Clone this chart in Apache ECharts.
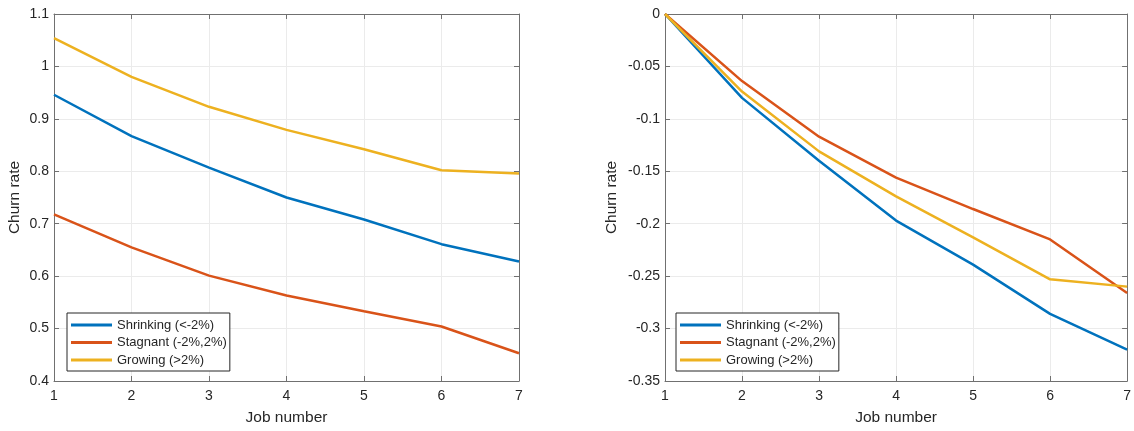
<!DOCTYPE html>
<html>
<head>
<meta charset="utf-8">
<script src="https://cdn.jsdelivr.net/npm/echarts@6/dist/echarts.min.js"></script>
<style>
  html, body { margin: 0; padding: 0; background: #fff; }
  #chart { width: 1134px; height: 431px; }
</style>
</head>
<body>
<div id="chart"></div>
<script>
// Job number along the x axis
const jobNumbers = [1, 2, 3, 4, 5, 6, 7];

// Series names
const seriesNames = ['Shrinking (<-2%)', 'Stagnant (-2%,2%)', 'Growing (>2%)'];

// Left panel: churn rate level by job number
const levelShrinking = [0.946, 0.867, 0.807, 0.750, 0.708, 0.661, 0.628];
const levelStagnant  = [0.718, 0.655, 0.601, 0.563, 0.533, 0.504, 0.453];
const levelGrowing   = [1.054, 0.980, 0.923, 0.879, 0.842, 0.802, 0.796];

// Right panel: churn rate relative to the first job
const relShrinking = [0, -0.080, -0.140, -0.197, -0.239, -0.286, -0.320];
const relStagnant  = [0, -0.064, -0.117, -0.156, -0.186, -0.215, -0.266];
const relGrowing   = [0, -0.074, -0.131, -0.174, -0.213, -0.253, -0.260];

const colors = ['#0072BD', '#D95319', '#EDB120'];
const axisGray = '#707070';
const textColor = '#262626';
const fontFamily = 'Liberation Sans, Arial, Helvetica, sans-serif';

const pairs = (ys) => jobNumbers.map((x, i) => [x, ys[i]]);
const fmt = (v) => String(parseFloat(v.toFixed(2)));

function xAxes(gridIndex) {
  const common = {
    type: 'value', gridIndex, min: 1, max: 7, interval: 1,
    axisLine: { show: true, onZero: false, lineStyle: { color: axisGray, width: 1 } },
    axisTick: { show: true, inside: true, length: 5, lineStyle: { color: axisGray } }
  };
  return [
    Object.assign({}, common, {
      position: 'bottom',
      name: 'Job number', nameLocation: 'middle', nameGap: 29,
      nameTextStyle: { fontSize: 15.5, color: textColor, fontFamily },
      axisLabel: { fontSize: 14, color: textColor, fontFamily, margin: 8, formatter: fmt },
      splitLine: { show: true, lineStyle: { color: '#ebebeb', width: 1 } }
    }),
    Object.assign({}, common, {
      position: 'top',
      axisLabel: { show: false },
      splitLine: { show: false }
    })
  ];
}

function yAxes(gridIndex, min, max, interval, nameGap) {
  const common = {
    type: 'value', gridIndex, min, max, interval,
    axisLine: { show: true, onZero: false, lineStyle: { color: axisGray, width: 1 } },
    axisTick: { show: true, inside: true, length: 5, lineStyle: { color: axisGray } }
  };
  return [
    Object.assign({}, common, {
      position: 'left',
      name: 'Churn rate', nameLocation: 'middle', nameGap,
      nameTextStyle: { fontSize: 15.5, color: textColor, fontFamily },
      axisLabel: { fontSize: 14, color: textColor, fontFamily, margin: 5, formatter: fmt },
      splitLine: { show: true, lineStyle: { color: '#ebebeb', width: 1 } }
    }),
    Object.assign({}, common, {
      position: 'right',
      axisLabel: { show: false },
      splitLine: { show: false }
    })
  ];
}

function lineSeries(name, data, color, axisIndex) {
  return {
    type: 'line', name, data: pairs(data),
    xAxisIndex: axisIndex, yAxisIndex: axisIndex,
    showSymbol: false, symbol: 'none',
    lineStyle: { color, width: 2.5 },
    itemStyle: { color },
    z: 3
  };
}

function legendAt(left, top) {
  return {
    orient: 'vertical', left, top,
    data: seriesNames.map(n => ({ name: n, icon: 'rect' })),
    itemWidth: 41, itemHeight: 3, itemGap: 3.5,
    padding: [5, 3, 4, 4],
    borderColor: '#262626', borderWidth: 1, backgroundColor: '#fff',
    textStyle: { fontSize: 13, color: textColor, fontFamily, lineHeight: 14 },
    selectedMode: false
  };
}

const chart = echarts.init(document.getElementById('chart'), null, { renderer: 'canvas' });
chart.setOption({
  animation: false,
  backgroundColor: '#fff',
  color: colors,
  grid: [
    { left: 54, top: 14, width: 465, height: 367 },
    { left: 665, top: 14, width: 464, height: 367 }
  ],
  xAxis: [...xAxes(0), ...xAxes(1)],
  yAxis: [...yAxes(0, 0.4, 1.1, 0.1, 31), ...yAxes(1, -0.35, 0, 0.05, 45)],
  legend: [legendAt(67, 313), legendAt(676, 313)],
  series: [
    lineSeries(seriesNames[0], levelShrinking, colors[0], 0),
    lineSeries(seriesNames[1], levelStagnant, colors[1], 0),
    lineSeries(seriesNames[2], levelGrowing, colors[2], 0),
    lineSeries(seriesNames[0], relShrinking, colors[0], 2),
    lineSeries(seriesNames[1], relStagnant, colors[1], 2),
    lineSeries(seriesNames[2], relGrowing, colors[2], 2)
  ]
});
</script>
</body>
</html>
